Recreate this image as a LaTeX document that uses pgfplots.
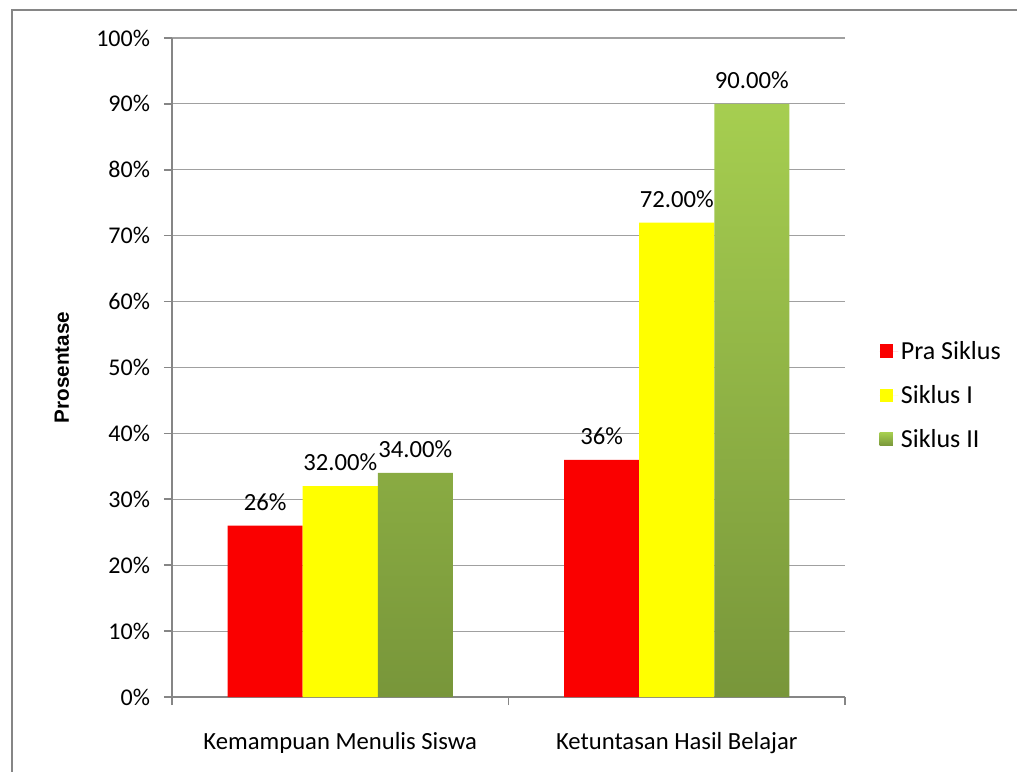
\documentclass[border=0pt]{standalone}
\usepackage{pgfplots}
\pgfplotsset{compat=1.18}
\usepackage{fontspec}
\setmainfont{Carlito}
\newfontfamily\arialb{Liberation Sans}
\definecolor{gridc}{RGB}{160,160,160}
\definecolor{axc}{RGB}{134,134,134}
\definecolor{bred}{RGB}{250,0,0}
\definecolor{byel}{RGB}{255,255,0}
\definecolor{bgreenT}{RGB}{166,206,80}
\definecolor{bgreenB}{RGB}{120,150,58}
\begin{document}
\begin{tikzpicture}
\useasboundingbox (-129pt,-55.5pt) rectangle (633.75pt,522.75pt);
\draw[axc, line width=1.5pt] (-120pt,-56pt) -- (-120pt,515.25pt) -- (634pt,515.25pt);
\begin{axis}[
  at={(0pt,0pt)}, anchor=south west,
  scale only axis, width=504.75pt, height=494.25pt,
  xmin=-0.5, xmax=1.5, ymin=0, ymax=100,
  ybar=0pt,
  axis x line*=bottom, axis y line*=left,
  axis line style={axc, line width=1.5pt, -},
  ytick={0,10,...,100},
  yticklabel={\pgfmathprintnumber{\tick}\%},
  /pgf/number format/assume math mode=true,
  ymajorgrids, grid style={gridc, line width=0.9pt},
  tick align=outside, major tick length=6pt,
  tick style={axc, line width=1.2pt},
  yticklabel style={font=\fontsize{18}{21}\selectfont, xshift=-7pt},
  xtick={0,1},
  xticklabels={Kemampuan Menulis Siswa, Ketuntasan Hasil Belajar},
  major x tick style={draw=none},
  minor xtick={-0.5,0.5,1.5},
  minor tick length=6pt,
  xticklabel style={font=\fontsize{18.5}{21}\selectfont, yshift=-17pt},
  ylabel={\arialb\bfseries Prosentase},
  ylabel style={at={(axis description cs:-0.1635,0.5)}, anchor=center, font=\fontsize{15.5}{18}\selectfont},
  bar width=0.223,
  nodes near coords,
  point meta=explicit symbolic,
  every node near coord/.append style={font=\fontsize{18.5}{21}\selectfont, anchor=south, inner sep=0pt, yshift=11pt, text=black},
  legend style={draw=none, fill=none, at={(1.051,0.458)}, anchor=west,
    font=\fontsize{19.5}{22}\selectfont, row sep=14pt, inner sep=0pt},
  legend cell align=left,
  legend image code/.code={\draw[#1, draw=none] (0pt,-5pt) rectangle (10pt,5pt); \path (0pt,0pt) -- (14pt,0pt);},
  clip=false,
]
\addplot[bar shift=-0.223, fill=bred, draw=none] coordinates {(0,26) [26\%] (1,36) [36\%]};
\addlegendentry{Pra Siklus}
\addplot[bar shift=0, fill=byel, draw=none] coordinates {(0,32) [32.00\%] (1,72) [72.00\%]};
\addlegendentry{Siklus I}
\addplot[bar shift=0.223, top color=bgreenT, bottom color=bgreenB, draw=none] coordinates {(0,34) [34.00\%] (1,90) [90.00\%]};
\addlegendentry{Siklus II}
\end{axis}
\end{tikzpicture}
\end{document}
